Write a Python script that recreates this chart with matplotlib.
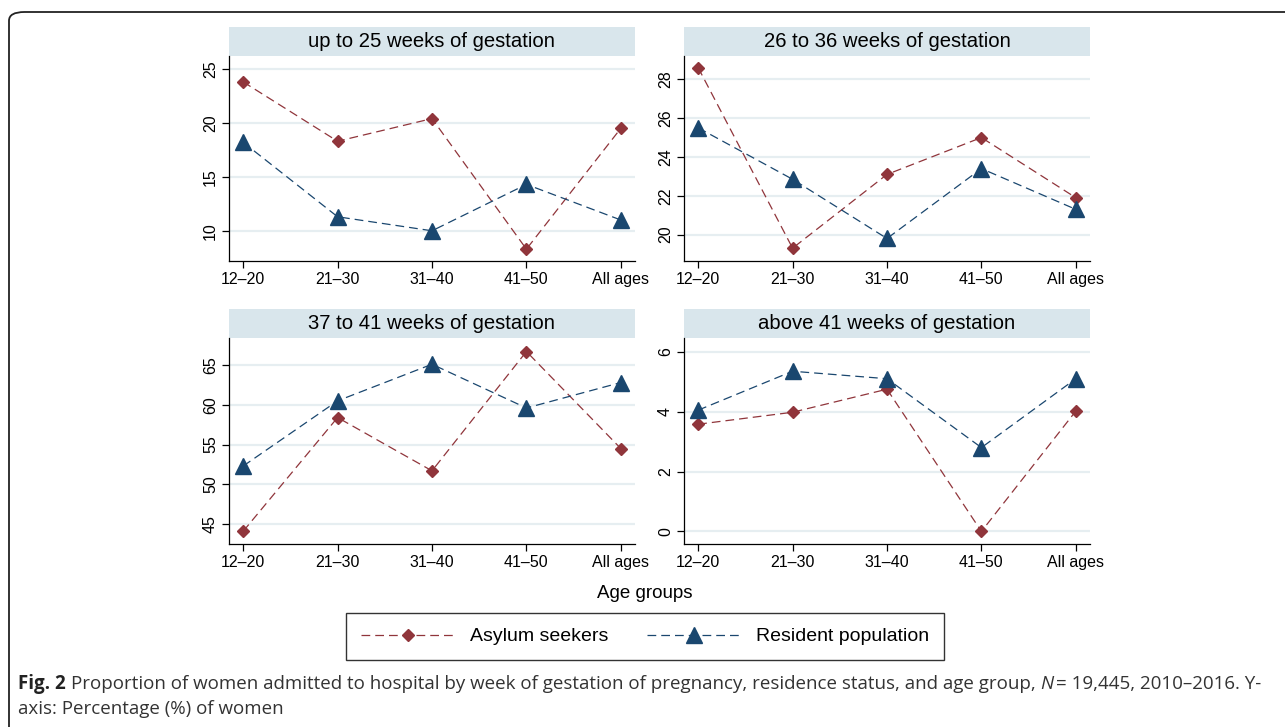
import matplotlib
matplotlib.use("Agg")
import matplotlib.pyplot as plt
from matplotlib.patches import Rectangle, FancyBboxPatch
from matplotlib.lines import Line2D

plt.rcParams["font.family"] = ["Liberation Sans", "DejaVu Sans"]

age_groups = ["12\u201320", "21\u201330", "31\u201340", "41\u201350", "All ages"]
panel_titles = [
    "up to 25 weeks of gestation",
    "26 to 36 weeks of gestation",
    "37 to 41 weeks of gestation",
    "above 41 weeks of gestation",
]

asylum_upto25 = [23.8, 18.3, 20.4, 8.3, 19.5]
resident_upto25 = [18.2, 11.3, 10.0, 14.3, 11.0]
asylum_26to36 = [28.6, 19.3, 23.1, 25.0, 21.9]
resident_26to36 = [25.5, 22.85, 19.8, 23.4, 21.3]
asylum_37to41 = [44.1, 58.4, 51.7, 66.7, 54.5]
resident_37to41 = [52.3, 60.5, 65.1, 59.6, 62.8]
asylum_above41 = [3.58, 3.98, 4.75, 0.0, 4.02]
resident_above41 = [4.05, 5.35, 5.1, 2.8, 5.1]

yticks = [[10, 15, 20, 25], [20, 22, 24, 26, 28], [45, 50, 55, 60, 65], [0, 2, 4, 6]]
ylims = [(7.2, 26.2), (18.64, 29.2), (42.5, 68.4), (-0.42, 6.46)]

asylum = [asylum_upto25, asylum_26to36, asylum_37to41, asylum_above41]
resident = [resident_upto25, resident_26to36, resident_37to41, resident_above41]

MAROON = "#90353b"
NAVY = "#1a476f"
STRIP = "#d9e6ec"
GRID = "#e6eef1"
CAPTION = "#333333"

W, H = 1285, 727
fig = plt.figure(figsize=(W / 100, H / 100), dpi=100)

# outer rounded frame (runs off the right and bottom edges)
frame = FancyBboxPatch((9 / W, -0.1), 1.2, 1.1 - 12 / H,
                       boxstyle="round,pad=0,rounding_size=0.012",
                       transform=fig.transFigure, fill=False,
                       edgecolor="#222222", lw=1.3)
fig.patches.append(frame)

# axes boxes in pixels: left, top, right, bottom
boxes = [
    (229, 56, 635, 261),
    (684, 56, 1090, 261),
    (229, 338, 635, 544),
    (684, 338, 1090, 544),
]
strip_h = 29

x = list(range(len(age_groups)))
for i, (l, t, r, b) in enumerate(boxes):
    ax = fig.add_axes([l / W, 1 - b / H, (r - l) / W, (b - t) / H])
    ax.plot(x, asylum[i], color=MAROON, lw=0.9, dashes=(7, 4),
            marker="D", markersize=6.2, markerfacecolor=MAROON,
            markeredgecolor=MAROON, zorder=3)
    ax.plot(x, resident[i], color=NAVY, lw=0.9, dashes=(7, 4),
            marker="^", markersize=11, markerfacecolor=NAVY,
            markeredgecolor=NAVY, zorder=3)
    ax.set_xlim(-0.15, 4.15)
    ax.set_ylim(*ylims[i])
    ax.set_xticks(x)
    ax.set_xticklabels(age_groups, fontsize=11.5)
    ax.set_yticks(yticks[i])
    ax.set_yticklabels([str(v) for v in yticks[i]], fontsize=11.5,
                       rotation=90, va="center")
    ax.tick_params(direction="out", length=5, width=0.9, pad=3)
    ax.grid(axis="y", color=GRID, lw=1.6)
    ax.set_axisbelow(True)
    for s in ("top", "right"):
        ax.spines[s].set_visible(False)
    for s in ("left", "bottom"):
        ax.spines[s].set_linewidth(0.9)
    # title strip
    sh = strip_h / (b - t)
    ax.add_patch(Rectangle((0, 1), 1, sh, transform=ax.transAxes,
                           facecolor=STRIP, edgecolor="none", clip_on=False))
    ax.text(0.5, 1 + sh / 2, panel_titles[i], transform=ax.transAxes,
            ha="center", va="center", fontsize=14.6)

fig.text(645 / W, 1 - 594 / H, "Age groups", ha="center", va="center",
         fontsize=13.5)

# legend
handles = [
    Line2D([], [], color=MAROON, lw=0.9, dashes=(7, 4), marker="D",
           markersize=6.2, markerfacecolor=MAROON, markeredgecolor=MAROON),
    Line2D([], [], color=NAVY, lw=0.9, dashes=(7, 4), marker="^",
           markersize=11, markerfacecolor=NAVY, markeredgecolor=NAVY),
]
leg = fig.legend(handles, ["Asylum seekers", "Resident population"],
                 loc="center", bbox_to_anchor=(645 / W, 1 - 636.5 / H),
                 ncol=2, fontsize=14, frameon=True, fancybox=False,
                 edgecolor="black", handlelength=4.8, columnspacing=2.0,
                 handletextpad=0.8, borderpad=0.75, borderaxespad=0)
leg.get_frame().set_linewidth(1.0)

# caption
cap_font = ["Open Sans", "DejaVu Sans"]
cap_size = 13.5
y1 = 1 - 684 / H
t1 = fig.text(18 / W, y1, "Fig. 2", fontsize=cap_size, fontweight="bold",
              family=cap_font, va="center", color="#222222")
fig.canvas.draw()
bb = t1.get_window_extent()
t2 = fig.text(bb.x1 / W + 5 / W, y1,
              "Proportion of women admitted to hospital by week of gestation of pregnancy, residence status, and age group, ",
              fontsize=cap_size, family=cap_font, va="center", color=CAPTION)
fig.canvas.draw()
bb = t2.get_window_extent()
t3 = fig.text(bb.x1 / W, y1, "N", fontsize=cap_size, family=cap_font,
              style="italic", va="center", color=CAPTION)
fig.canvas.draw()
bb = t3.get_window_extent()
fig.text(bb.x1 / W + 2 / W, y1, "= 19,445, 2010\u20132016. Y-",
         fontsize=cap_size, family=cap_font, va="center", color=CAPTION)
fig.text(18 / W, 1 - 709 / H, "axis: Percentage (%) of women",
         fontsize=cap_size, family=cap_font, va="center", color=CAPTION)

fig.savefig("out.png", dpi=100)
